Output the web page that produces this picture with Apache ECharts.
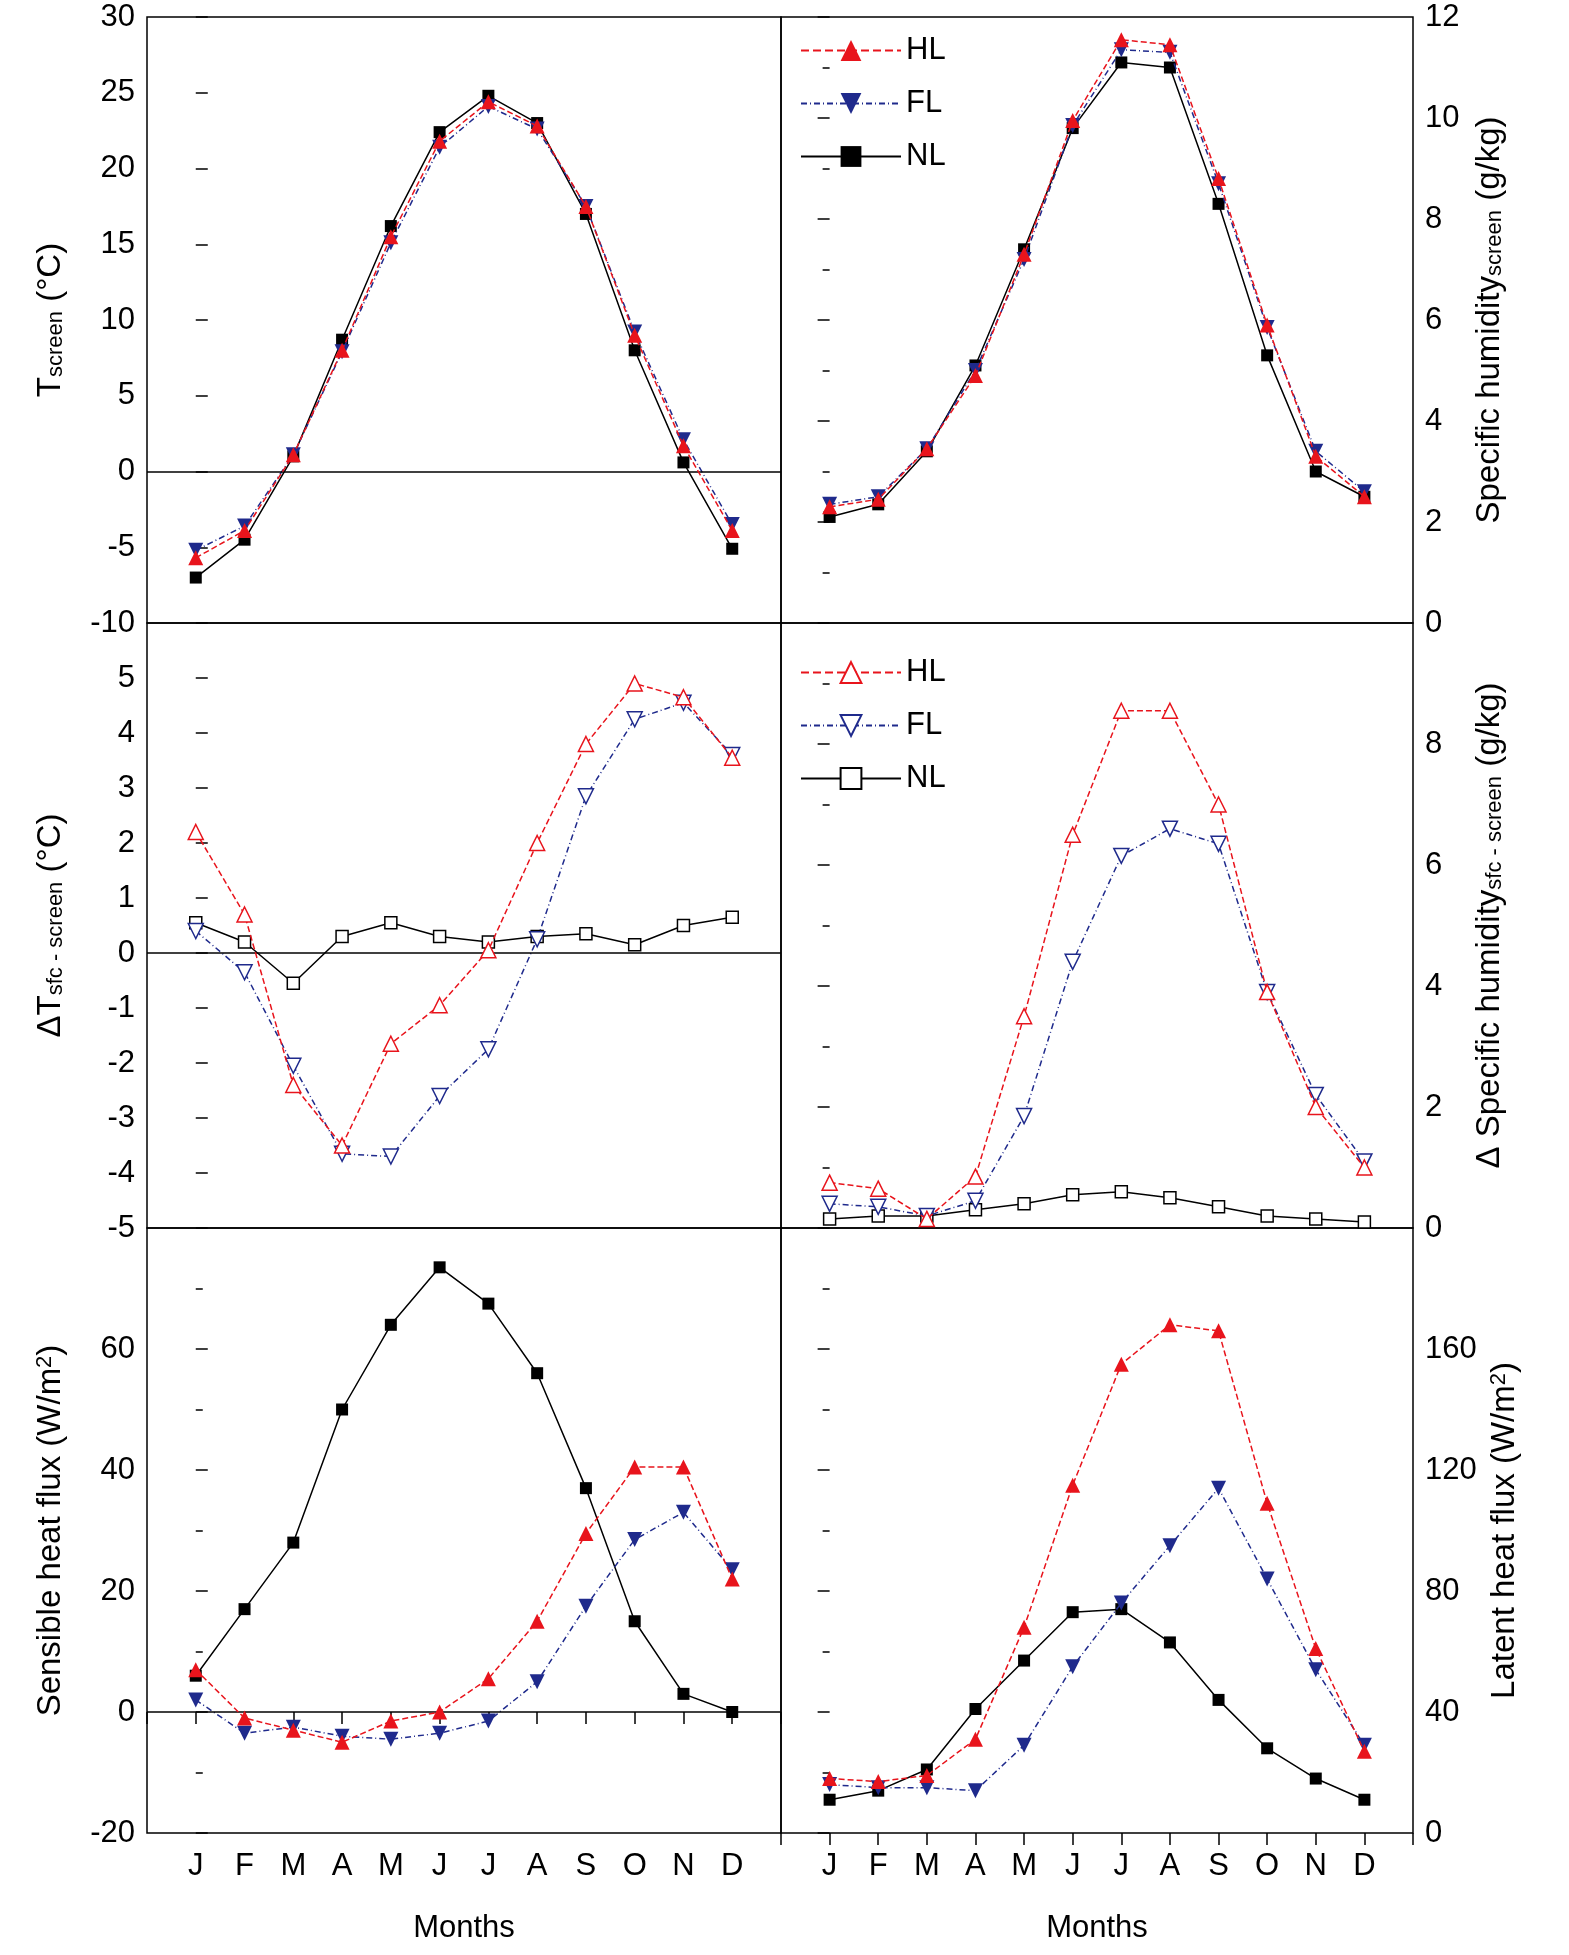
<!DOCTYPE html>
<html><head><meta charset="utf-8">
<script src="https://cdn.jsdelivr.net/npm/echarts@6/dist/echarts.min.js"></script>
<style>html,body{margin:0;background:#fff}#c{width:1569px;height:1955px}</style>
</head><body><div id="c"></div>
<script>
var months = ['J','F','M','A','M','J','J','A','S','O','N','D'];
// panel a: T screen
var tHL = [-5.7,-3.9,1.1,8,15.5,21.8,24.4,22.8,17.5,9,1.7,-3.9];
var tFL = [-5.2,-3.6,1.1,7.9,15.1,21.4,24.1,22.6,17.5,9.2,2.1,-3.5];
var tNL = [-7,-4.5,1,8.7,16.2,22.4,24.8,23,17,8,0.6,-5.1];
// panel b: specific humidity
var qHL = [2.3,2.45,3.45,4.9,7.3,9.95,11.55,11.45,8.8,5.9,3.3,2.5];
var qFL = [2.35,2.5,3.45,5.0,7.2,9.85,11.35,11.3,8.7,5.85,3.4,2.6];
var qNL = [2.1,2.35,3.4,5.1,7.4,9.8,11.1,11.0,8.3,5.3,3.0,2.5];
// panel c: delta T
var dtHL = [2.2,0.7,-2.4,-3.5,-1.65,-0.95,0.05,2.0,3.8,4.9,4.65,3.55];
var dtFL = [0.4,-0.35,-2.05,-3.65,-3.7,-2.6,-1.75,0.25,2.85,4.25,4.55,3.6];
var dtNL = [0.55,0.2,-0.55,0.3,0.55,0.3,0.2,0.3,0.35,0.15,0.5,0.65];
// panel d: delta q
var dqHL = [0.75,0.65,0.15,0.85,3.5,6.5,8.55,8.55,7.0,3.9,2.0,1.0];
var dqFL = [0.4,0.35,0.2,0.45,1.85,4.4,6.15,6.6,6.35,3.9,2.2,1.1];
var dqNL = [0.15,0.2,0.2,0.3,0.4,0.55,0.6,0.5,0.35,0.2,0.15,0.1];
// panel e: sensible heat flux
var shHL = [7,-1,-3,-5,-1.5,0,5.5,15,29.5,40.5,40.5,22];
var shFL = [2,-3.5,-2.5,-4,-4.5,-3.5,-1.5,5,17.5,28.5,33,23.5];
var shNL = [6,17,28,50,64,73.5,67.5,56,37,15,3,0];
// panel f: latent heat flux
var lhHL = [18,17,19,31,68,115,155,168,166,109,61,27];
var lhFL = [16,15,15,14,29,55,76,95,114,84,54,29];
var lhNL = [11,14,21,41,57,73,74,63,44,28,18,11];

var RED = '#e8141c', BLUE = '#1f2a8c', FONT = 'Liberation Sans, Arial, sans-serif';
var L = 147, M = 781, R = 1413, rows = [17, 623, 1228, 1833];
var chart = echarts.init(document.getElementById('c'));
var grids = [], xAxes = [], yAxes = [], series = [];

function panel(i, col, row, yCfg, data, hollow, zeroLine) {
  grids.push({left: col ? M : L, width: col ? R - M : M - L, top: rows[row], height: rows[row+1] - rows[row],
    show: true, borderColor: '#000', borderWidth: 1.5, backgroundColor: 'transparent'});
  xAxes.push({type: 'value', gridIndex: i, min: -1, max: 12, interval: 1,
    axisLine: {show: false}, splitLine: {show: false},
    axisTick: {show: row === 2, inside: false, length: 12, lineStyle: {color: '#000', width: 1.5}},
    axisLabel: {show: row === 2, fontSize: 31, color: '#000', fontFamily: FONT, margin: 18,
      formatter: function (v) { return (v >= 0 && v <= 11) ? months[v] : ''; }},
    name: row === 2 ? 'Months' : '', nameLocation: 'middle', nameGap: 80,
    nameTextStyle: {fontSize: 31, color: '#000', fontFamily: FONT}});
  yAxes.push(Object.assign({type: 'value', gridIndex: i, position: col ? 'right' : 'left',
    axisLine: {show: false}, splitLine: {show: false},
    axisTick: {show: true, inside: true, length: 12, lineStyle: {color: '#000', width: 1.5}},
    minorTick: {show: true, splitNumber: 2, length: 7, lineStyle: {color: '#000', width: 1.5}},
    axisLabel: {fontSize: 31, color: '#000', fontFamily: FONT, margin: 12,
      showMaxLabel: yCfg.showMax !== false},
    nameLocation: 'middle', nameRotate: 90, nameGap: yCfg.gap,
    nameTextStyle: {fontSize: 33, color: '#000', fontFamily: FONT,
      rich: {s: {fontSize: 22, color: '#000', fontFamily: FONT, verticalAlign: 'bottom', padding: [0,0,0,0]},
             p: {fontSize: 22, color: '#000', fontFamily: FONT, verticalAlign: 'top'}}}
  }, yCfg.axis));
  var defs = [['HL', RED, 'triangle', 0, 'dashed', data[0]],
              ['FL', BLUE, 'triangle', 180, [6, 3, 1, 3], data[1]],
              ['NL', '#000', 'rect', 0, 'solid', data[2]]];
  defs.forEach(function (d, k) {
    var s = {name: d[0] + (hollow ? ' ' : ''), type: 'line', xAxisIndex: i, yAxisIndex: i,
      data: d[5].map(function (v, j) { return [j, v]; }),
      symbol: d[2], symbolRotate: d[3], symbolSize: d[2] === 'rect' ? 12 : 15,
      lineStyle: {color: d[1], width: 1.5, type: d[4]},
      itemStyle: {color: hollow ? '#fff' : d[1], borderColor: d[1], borderWidth: hollow ? 1.5 : 0},
      z: 5 - k, animation: false};
    if (zeroLine && k === 0) s.markLine = {silent: true, symbol: 'none', label: {show: false},
      lineStyle: {color: '#000', type: 'solid', width: 1.5}, data: [{yAxis: 0}]};
    series.push(s);
  });
}

panel(0, 0, 0, {axis: {min: -10, max: 30, interval: 5, minorTick: {show: false}, name: 'T{s|screen} (°C)'}, gap: 80},
  [tHL, tFL, tNL], false, true);
panel(1, 1, 0, {axis: {min: 0, max: 12, interval: 2, name: 'Specific humidity{s|screen} (g/kg)'}, gap: 60},
  [qHL, qFL, qNL], false, false);
panel(2, 0, 1, {axis: {min: -5, max: 6, interval: 1, minorTick: {show: false}, name: 'ΔT{s|sfc - screen} (°C)'}, gap: 80, showMax: false},
  [dtHL, dtFL, dtNL], true, true);
panel(3, 1, 1, {axis: {min: 0, max: 10, interval: 2, name: 'Δ Specific humidity{s|sfc - screen} (g/kg)'}, gap: 60, showMax: false},
  [dqHL, dqFL, dqNL], true, false);
panel(4, 0, 2, {axis: {min: -20, max: 80, interval: 20, name: 'Sensible heat flux (W/m{p|2})'}, gap: 80, showMax: false},
  [shHL, shFL, shNL], false, true);
panel(5, 1, 2, {axis: {min: 0, max: 200, interval: 40, name: 'Latent heat flux (W/m{p|2})'}, gap: 75, showMax: false},
  [lhHL, lhFL, lhNL], false, false);

chart.setOption({
  animation: false,
  grid: grids, xAxis: xAxes, yAxis: yAxes, series: series,
  legend: [
    {data: ['HL', 'FL', 'NL'], orient: 'vertical', left: 795, top: 30, itemWidth: 100, itemHeight: 26, itemGap: 22,
      textStyle: {fontSize: 31, color: '#000', fontFamily: FONT}},
    {data: ['HL ', 'FL ', 'NL '], orient: 'vertical', left: 795, top: 652, itemWidth: 100, itemHeight: 26, itemGap: 22,
      textStyle: {fontSize: 31, color: '#000', fontFamily: FONT}}
  ]
});
</script></body></html>
